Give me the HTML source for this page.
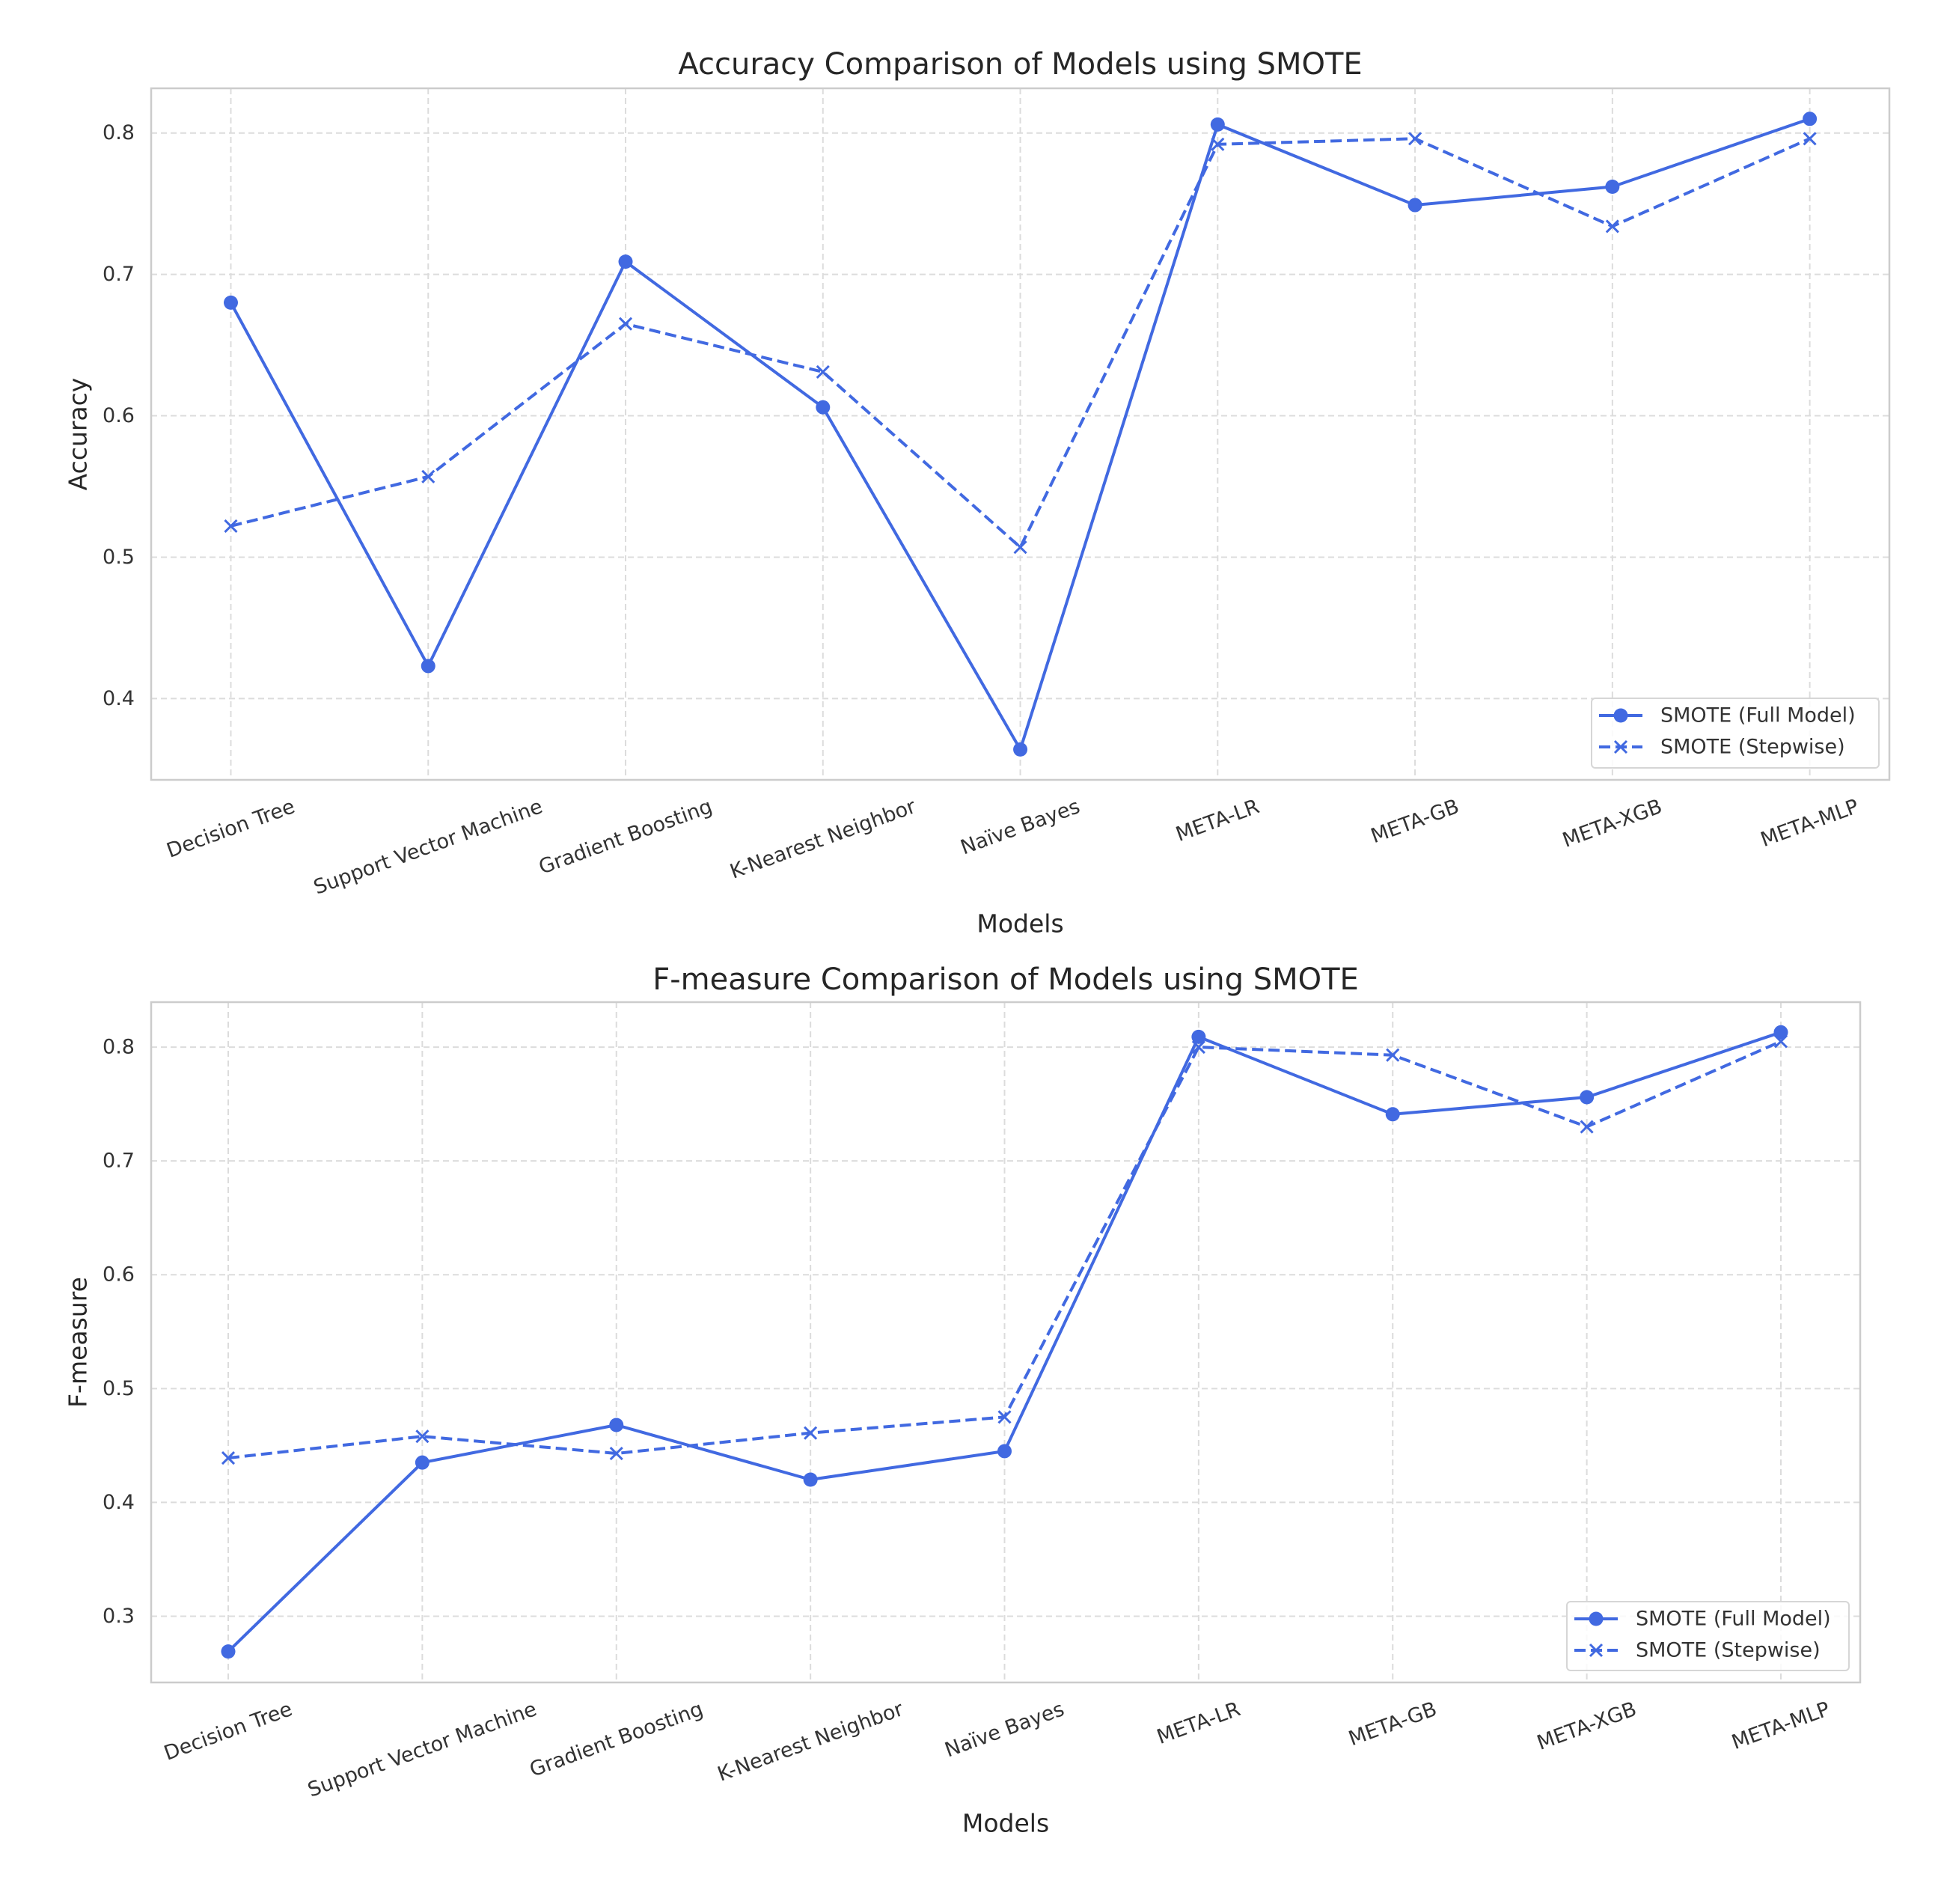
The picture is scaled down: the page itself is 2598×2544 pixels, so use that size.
<!DOCTYPE html>
<html><head><meta charset="utf-8"><style>
html,body{margin:0;padding:0;background:#fff;}
svg{display:block;font-family:"DejaVu Sans","Liberation Sans",sans-serif;}
</style></head><body>
<svg id="fig" width="2598" height="2544" viewBox="0 0 2598 2544" xmlns="http://www.w3.org/2000/svg">
<rect width="2598" height="2544" fill="#fff"/>
<g id="chart1"></g>
<g id="chart2"></g>
</svg>
<script>
const categories = ["Decision Tree","Support Vector Machine","Gradient Boosting","K-Nearest Neighbor","Naïve Bayes","META-LR","META-GB","META-XGB","META-MLP"];
const accuracyFull = [0.680,0.423,0.709,0.606,0.364,0.806,0.749,0.762,0.810];
const accuracyStepwise = [0.522,0.557,0.665,0.631,0.507,0.792,0.796,0.734,0.796];
const fmeasureFull = [0.269,0.435,0.468,0.420,0.445,0.809,0.741,0.756,0.813];
const fmeasureStepwise = [0.439,0.458,0.443,0.461,0.475,0.800,0.793,0.730,0.805];
const accuracyTicks = [0.4,0.5,0.6,0.7,0.8];
const fmeasureTicks = [0.3,0.4,0.5,0.6,0.7,0.8];
const seriesNames = ["SMOTE (Full Model)","SMOTE (Stepwise)"];

const NS="http://www.w3.org/2000/svg";
const COLOR="#4169e1";
function mk(tag, attrs, parent){const e=document.createElementNS(NS,tag);for(const k in attrs)e.setAttribute(k,attrs[k]);parent.appendChild(e);return e;}

function drawChart(g, cfg){
  const L=cfg.left,R=cfg.right,T=cfg.top,B=cfg.bottom;
  const y=v=>B-(v-cfg.ymin)/(cfg.ymax-cfg.ymin)*(B-T);
  const step=(cfg.x8-cfg.x0)/(categories.length-1);
  const x=i=>cfg.x0+i*step;
  cfg.ticks.forEach(t=>{
    const ln=mk('line',{x1:L,x2:R,y1:y(t),y2:y(t),stroke:'#dcdcdc','stroke-width':2,'stroke-dasharray':'8,5'},g);
    
    
    const tx=mk('text',{x:L-22,y:y(t),'text-anchor':'end','dominant-baseline':'central','font-size':27,fill:'#333'},g);
    tx.textContent=t.toFixed(1);
    
    
  });
  categories.forEach((c,i)=>{
    const ln=mk('line',{x1:x(i),x2:x(i),y1:T,y2:B,stroke:'#dcdcdc','stroke-width':2,'stroke-dasharray':'8,5'},g);
    
    
    const tx=mk('text',{'text-anchor':'middle','dominant-baseline':'central','font-size':27,fill:'#333'},g);
    tx.textContent=c;
    
    
    const w=tx.getComputedTextLength(), h=27, th=20*Math.PI/180;
    const bh=w*Math.sin(th)+h*Math.cos(th);
    const cx=x(i), cy=B+22+bh/2;
    tx.setAttribute('x',cx);tx.setAttribute('y',cy);
    tx.setAttribute('transform',`rotate(-20 ${cx} ${cy})`);
  });
  const frame=mk('rect',{x:L,y:T,width:R-L,height:B-T,fill:'none',stroke:'#cccccc','stroke-width':2.5},g);
  
  
  const pts1=cfg.full.map((v,i)=>x(i)+','+y(v)).join(' ');
  const pl1=mk('polyline',{points:pts1,fill:'none',stroke:COLOR,'stroke-width':4,'stroke-linejoin':'round'},g);
  
  
  const pts2=cfg.step.map((v,i)=>x(i)+','+y(v)).join(' ');
  const pl2=mk('polyline',{points:pts2,fill:'none',stroke:COLOR,'stroke-width':4,'stroke-dasharray':'15,7','stroke-linejoin':'round'},g);
  
  
  cfg.full.forEach((v,i)=>{
    const c=mk('circle',{cx:x(i),cy:y(v),r:9.5,fill:COLOR},g);
    
    
  });
  cfg.step.forEach((v,i)=>{
    const px=x(i),py=y(v),s=8;
    const p=mk('path',{d:`M${px-s},${py-s}L${px+s},${py+s}M${px-s},${py+s}L${px+s},${py-s}`,stroke:COLOR,'stroke-width':3,fill:'none'},g);
    
    
  });
  const tt=mk('text',{x:(L+R)/2,y:cfg.titleY,'text-anchor':'middle','dominant-baseline':'central','font-size':40,fill:'#262626'},g);
  tt.textContent=cfg.title;
  
  
  const yl=mk('text',{x:104,y:(T+B)/2,'text-anchor':'middle','dominant-baseline':'central','font-size':33,fill:'#262626',transform:`rotate(-90 104 ${(T+B)/2})`},g);
  yl.textContent=cfg.ylabel;
  
  
  const xl=mk('text',{x:(L+R)/2,y:cfg.xlabelY,'text-anchor':'middle','dominant-baseline':'central','font-size':33,fill:'#262626'},g);
  xl.textContent='Models';
  
  
  const lg=cfg.legend;
  const lgG=mk('g',{},g);
  
  
  mk('rect',{x:lg.x,y:lg.y,width:lg.w,height:lg.h,rx:5,fill:'#fff','fill-opacity':0.85,stroke:'#d6d6d6','stroke-width':2},lgG);
  const r1=lg.y+23, r2=lg.y+65, lx1=lg.x+10, lx2=lg.x+68, mx=(lx1+lx2)/2;
  const e1=mk('g',{},lgG);
  
  
  mk('line',{x1:lx1,x2:lx2,y1:r1,y2:r1,stroke:COLOR,'stroke-width':4},e1);
  mk('circle',{cx:mx,cy:r1,r:9.5,fill:COLOR},e1);
  const t1=mk('text',{x:lg.x+92,y:r1,'dominant-baseline':'central','font-size':27,fill:'#333'},e1);
  t1.textContent=seriesNames[0];
  const e2=mk('g',{},lgG);
  
  
  mk('line',{x1:lx1,x2:lx2,y1:r2,y2:r2,stroke:COLOR,'stroke-width':4,'stroke-dasharray':'15,7'},e2);
  mk('path',{d:`M${mx-8},${r2-8}L${mx+8},${r2+8}M${mx-8},${r2+8}L${mx+8},${r2-8}`,stroke:COLOR,'stroke-width':3},e2);
  const t2=mk('text',{x:lg.x+92,y:r2,'dominant-baseline':'central','font-size':27,fill:'#333'},e2);
  t2.textContent=seriesNames[1];
}

drawChart(document.getElementById('chart1'),{
  left:202,right:2525,top:118,bottom:1042,ymin:0.3425,ymax:0.8316,
  x0:308.5,x8:2418.6,ticks:accuracyTicks,full:accuracyFull,step:accuracyStepwise,
  title:'Accuracy Comparison of Models using SMOTE',titleY:86,ylabel:'Accuracy',xlabelY:1234,
  legend:{x:2127,y:933,w:384,h:93}
});
drawChart(document.getElementById('chart2'),{
  left:202,right:2486,top:1339,bottom:2248,ymin:0.2418,ymax:0.8395,
  x0:305,x8:2380,ticks:fmeasureTicks,full:fmeasureFull,step:fmeasureStepwise,
  title:'F-measure Comparison of Models using SMOTE',titleY:1309,ylabel:'F-measure',xlabelY:2436,
  legend:{x:2094,y:2140,w:377,h:92}
});
</script>
</body></html>
